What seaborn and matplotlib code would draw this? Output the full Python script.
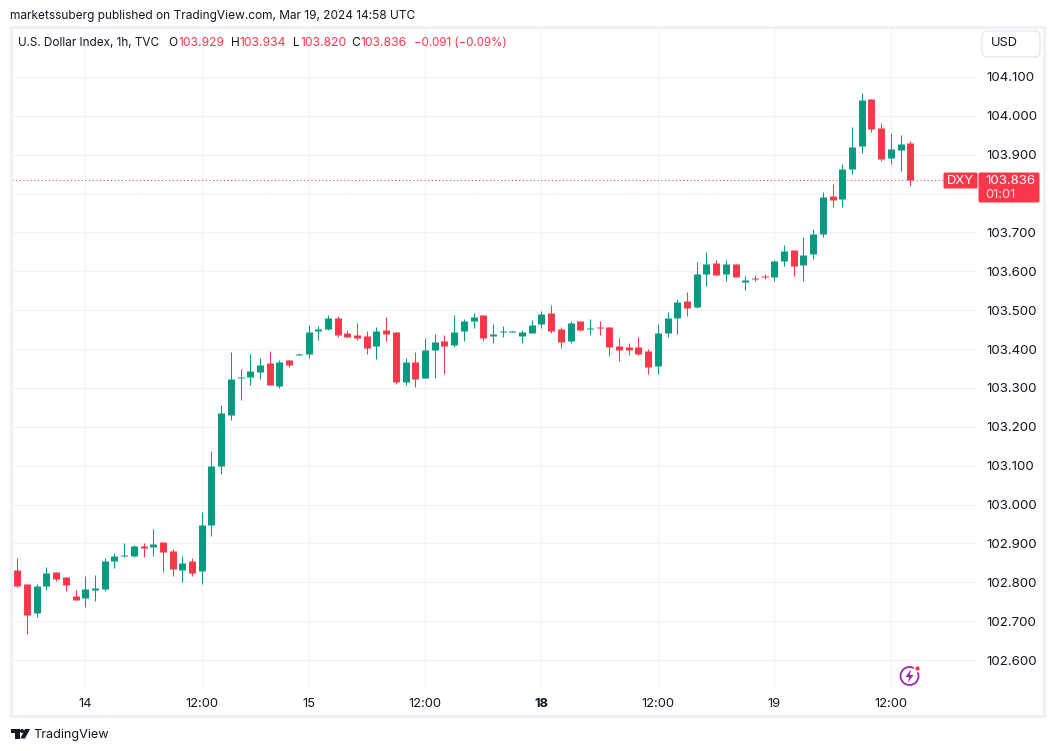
import pandas as pd
import numpy as np
import matplotlib
matplotlib.use("Agg")
import matplotlib.pyplot as plt
from matplotlib.patches import FancyBboxPatch, Rectangle, Circle, Polygon
import seaborn as sns

# hourly candles
opens = [102.832, 102.796, 102.721, 102.790, 102.826, 102.813, 102.765, 102.760, 102.780, 102.783,
         102.855, 102.868, 102.868, 102.893, 102.891, 102.904, 102.880, 102.832, 102.855, 102.829,
         102.947, 103.099, 103.230, 103.325, 103.328, 103.341, 103.364, 103.305, 103.372, 103.385,
         103.387, 103.447, 103.452, 103.480, 103.441, 103.436, 103.433, 103.408, 103.449, 103.444,
         103.315, 103.367, 103.325, 103.398, 103.420, 103.411, 103.447, 103.472, 103.487, 103.433,
         103.444, 103.444, 103.433, 103.441, 103.464, 103.493, 103.452, 103.420, 103.472, 103.452,
         103.457, 103.457, 103.408, 103.405, 103.405, 103.395, 103.356, 103.441, 103.480, 103.523,
         103.508, 103.593, 103.621, 103.593, 103.619, 103.572, 103.583, 103.588, 103.585, 103.627,
         103.655, 103.616, 103.645, 103.696, 103.794, 103.786, 103.863, 103.922, 104.043, 103.968,
         103.891, 103.912, 103.929]
highs = [102.863, 102.796, 102.796, 102.839, 102.826, 102.813, 102.780, 102.816, 102.819, 102.863,
         102.875, 102.901, 102.896, 102.901, 102.937, 102.904, 102.886, 102.868, 102.863, 102.981,
         103.138, 103.256, 103.392, 103.349, 103.387, 103.377, 103.395, 103.372, 103.372, 103.390,
         103.462, 103.459, 103.487, 103.485, 103.449, 103.467, 103.447, 103.457, 103.482, 103.444,
         103.377, 103.392, 103.428, 103.439, 103.436, 103.487, 103.477, 103.493, 103.487, 103.464,
         103.459, 103.447, 103.449, 103.475, 103.498, 103.513, 103.457, 103.472, 103.472, 103.477,
         103.472, 103.457, 103.428, 103.416, 103.431, 103.400, 103.464, 103.495, 103.528, 103.546,
         103.624, 103.650, 103.629, 103.629, 103.619, 103.588, 103.590, 103.593, 103.629, 103.668,
         103.655, 103.688, 103.709, 103.804, 103.825, 103.876, 103.971, 104.059, 104.043, 103.981,
         103.956, 103.951, 103.934]
lows = [102.788, 102.667, 102.711, 102.780, 102.803, 102.778, 102.754, 102.736, 102.752, 102.778,
        102.837, 102.865, 102.865, 102.865, 102.868, 102.826, 102.816, 102.801, 102.816, 102.796,
        102.919, 103.079, 103.218, 103.268, 103.308, 103.323, 103.308, 103.300, 103.354, 103.385,
        103.377, 103.423, 103.449, 103.431, 103.431, 103.423, 103.387, 103.374, 103.420, 103.310,
        103.308, 103.303, 103.325, 103.325, 103.335, 103.405, 103.420, 103.454, 103.420, 103.416,
        103.431, 103.444, 103.416, 103.441, 103.454, 103.441, 103.403, 103.416, 103.447, 103.436,
        103.436, 103.382, 103.369, 103.385, 103.385, 103.335, 103.335, 103.431, 103.439, 103.485,
        103.505, 103.562, 103.590, 103.575, 103.585, 103.552, 103.575, 103.580, 103.575, 103.614,
        103.588, 103.575, 103.632, 103.688, 103.765, 103.765, 103.850, 103.904, 103.958, 103.884,
        103.876, 103.858, 103.820]
closes = [102.790, 102.716, 102.790, 102.824, 102.808, 102.793, 102.754, 102.783, 102.785, 102.855,
          102.868, 102.870, 102.893, 102.888, 102.899, 102.878, 102.834, 102.850, 102.824, 102.947,
          103.099, 103.236, 103.323, 103.328, 103.344, 103.359, 103.308, 103.367, 103.359, 103.387,
          103.444, 103.452, 103.480, 103.436, 103.431, 103.428, 103.403, 103.447, 103.439, 103.315,
          103.367, 103.323, 103.398, 103.418, 103.408, 103.444, 103.472, 103.482, 103.428, 103.439,
          103.447, 103.447, 103.444, 103.462, 103.490, 103.447, 103.418, 103.467, 103.449, 103.454,
          103.454, 103.405, 103.398, 103.398, 103.387, 103.354, 103.441, 103.480, 103.521, 103.505,
          103.593, 103.619, 103.590, 103.619, 103.585, 103.578, 103.580, 103.585, 103.627, 103.652,
          103.614, 103.642, 103.696, 103.791, 103.783, 103.863, 103.920, 104.041, 103.966, 103.889,
          103.915, 103.928, 103.836]

price_ticks = [102.6, 102.7, 102.8, 102.9, 103.0, 103.1, 103.2, 103.3, 103.4, 103.5,
               103.6, 103.7, 103.8, 103.9, 104.0, 104.1]
# 103.800 is covered by the last price tag, so it gets no label
price_labels = ["102.600", "102.700", "102.800", "102.900", "103.000", "103.100", "103.200",
                "103.300", "103.400", "103.500", "103.600", "103.700", "", "103.900",
                "104.000", "104.100"]
time_ticks = [7, 19, 30, 42, 54, 66, 78, 90]
time_labels = ["14", "12:00", "15", "12:00", "18", "12:00", "19", "12:00"]
last_price = 103.836

GREEN = "#089981"
RED = "#F7374A"
TEXT = "#131722"
GRID = "#F2F3F6"
BORDER = "#EFF1F7"
FONT = "Inter"

W, H = 1054, 751

# candles in long form, two rows per wick and two per body
df = pd.DataFrame({"bar": np.arange(len(opens)), "open": opens, "high": highs,
                   "low": lows, "close": closes})
df["side"] = np.where(df["close"] >= df["open"], "up", "down")
wicks = df.melt(id_vars=["bar", "side"], value_vars=["low", "high"], value_name="price")
bodies = df.melt(id_vars=["bar", "side"], value_vars=["open", "close"], value_name="price")
colors = {"up": GREEN, "down": RED}

sns.set_theme(style="whitegrid", rc={"grid.color": GRID, "grid.linewidth": 0.75,
                                     "axes.edgecolor": "white"})
plt.rcParams["font.family"] = [FONT, "DejaVu Sans"]

fig = plt.figure(figsize=(W / 100, H / 100), dpi=100, facecolor="white")
ax = fig.add_axes([12 / W, 1 - 688 / H, (978 - 12) / W, (688 - 28) / H])

ax.axhline(last_price, color=RED, lw=0.75, ls=(0, (1, 2.5)), zorder=1.5)

sns.lineplot(data=wicks, x="bar", y="price", hue="side", palette=colors, units="bar",
             estimator=None, sort=False, linewidth=0.75, legend=False, ax=ax,
             solid_capstyle="butt", zorder=3)
sns.lineplot(data=bodies, x="bar", y="price", hue="side", palette=colors, units="bar",
             estimator=None, sort=False, linewidth=5.0, legend=False, ax=ax,
             solid_capstyle="butt", zorder=4)

ax.set_xlim(-0.55, 98.98)
ax.set_ylim(102.528, 104.226)
ax.set_xlabel("")
ax.set_ylabel("")
ax.yaxis.tick_right()
ax.set_yticks(price_ticks)
ax.set_yticklabels(price_labels, fontsize=9.6, color=TEXT)
ax.set_xticks(time_ticks)
ax.set_xticklabels(time_labels, fontsize=9.4, color=TEXT)
ax.get_xticklabels()[4].set_fontweight("bold")
ax.tick_params(axis="y", length=0, pad=6)
ax.tick_params(axis="x", length=0, pad=7.5)
for s in ax.spines.values():
    s.set_visible(False)

# everything around the chart is placed in pixels on an overlay
over = fig.add_axes([0, 0, 1, 1], zorder=10)
over.set_xlim(0, W)
over.set_ylim(H, 0)
over.axis("off")

over.add_patch(Rectangle((10.5, 26.5), 1033, 689, fill=False, ec=BORDER, lw=2))


def label(x, y, s, color=TEXT, size=9.4, **kw):
    over.text(x, y, s, color=color, fontsize=size, va="center", **kw)


label(10, 16, "marketssuberg published on TradingView.com, Mar 19, 2024 14:58 UTC", size=8.55)
label(18, 43, "U.S. Dollar Index, 1h, TVC", size=8.45)
for x, s, c, fs in [(168.5, "O", TEXT, 8.6), (178.5, "103.929", RED, 8.7),
                    (230.5, "H", TEXT, 8.6), (239.5, "103.934", RED, 8.7),
                    (292.5, "L", TEXT, 8.6), (300, "103.820", RED, 8.7),
                    (351.5, "C", TEXT, 8.6), (360.5, "103.836", RED, 8.7),
                    (413.5, "−0.091 (−0.09%)", RED, 8.3)]:
    label(x, 43, s, c, size=fs)

over.add_patch(FancyBboxPatch((985, 34), 52, 20, boxstyle="round,pad=3,rounding_size=5",
                              fc="white", ec="#E0E3EB", lw=0.8))
label(991, 43.5, "USD", size=9.2)

# last price tags
over.add_patch(FancyBboxPatch((944, 173), 33, 15, boxstyle="round,pad=0.5,rounding_size=1.5",
                              fc=RED, ec="none"))
over.add_patch(FancyBboxPatch((979, 173), 60, 29, boxstyle="round,pad=0.5,rounding_size=1.5",
                              fc=RED, ec="none"))
label(947, 181, "DXY", "white", size=9.4)
label(985.5, 180.5, "103.836", "white", size=9.6)
label(985.5, 194.5, "01:01", "#FBD5D9", size=9.4)

# power icon
over.add_patch(Circle((909.5, 676), 9, fill=False, ec="#9C27B0", lw=1.3))
over.add_patch(Polygon([(911, 669.5), (905.5, 677), (909.2, 677), (908, 682.5),
                        (913.5, 675), (909.8, 675)], fc="#9C27B0", ec="none"))
over.add_patch(Circle((917.5, 668.5), 3, fc=RED, ec="white", lw=1.2))

# TradingView logo
over.add_patch(Polygon([(10.5, 729), (19.5, 729), (19.5, 738.5), (15, 738.5), (15, 733), (10.5, 733)],
                       fc=TEXT, ec="none"))
over.add_patch(Circle((22, 731), 2, fc=TEXT, ec="none"))
over.add_patch(Polygon([(25, 729), (30, 729), (25, 738.5), (20.5, 738.5)], fc=TEXT, ec="none"))
label(33, 735, "TradingView", size=9.1)

fig.savefig("out.png", dpi=100, facecolor="white")
